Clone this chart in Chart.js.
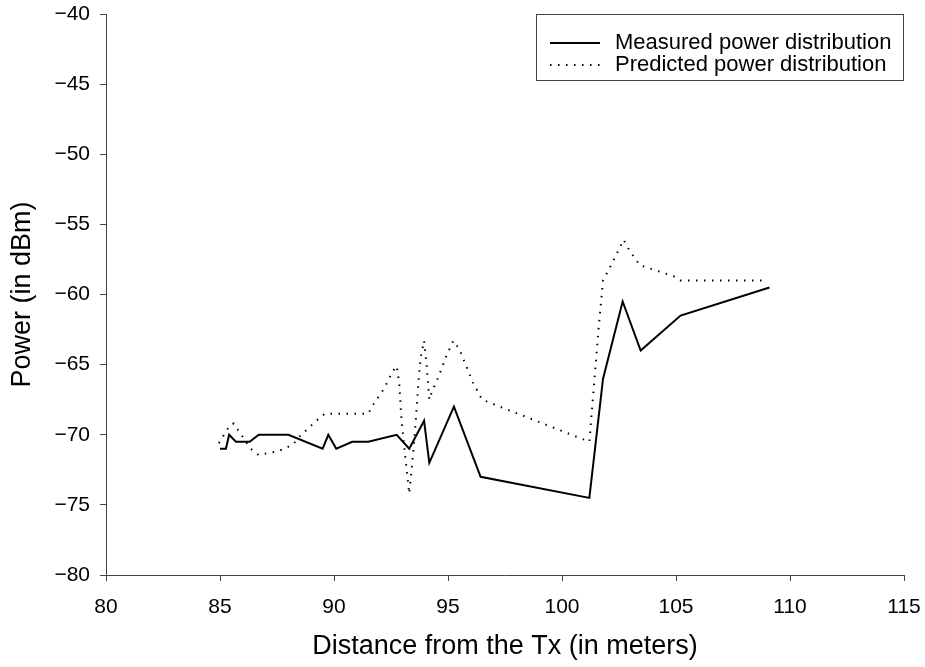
<!DOCTYPE html>
<html>
<head>
<meta charset="utf-8">
<script src="https://cdn.jsdelivr.net/npm/chart.js@4.4.1/dist/chart.umd.min.js"></script>
<style>
  html, body { margin: 0; padding: 0; background: #fff; }
  #wrap { width: 925px; height: 667px; }
</style>
</head>
<body>
<div id="wrap"><canvas id="power-chart"></canvas></div>
<script>
// Measured power (solid line)
const measuredX = [85.0, 85.26, 85.4, 85.7, 86.3, 86.7, 88.0, 89.5, 89.75, 90.1, 90.8, 91.5, 92.75, 93.3, 93.95, 94.18, 95.26, 96.43, 101.2, 101.8, 102.66, 103.45, 105.2, 109.1];
const measuredY = [-71, -71, -70, -70.5, -70.5, -70, -70, -71, -70, -71, -70.5, -70.5, -70, -71, -69, -72, -68, -73, -74.5, -66, -60.5, -64, -61.5, -59.5];

// Predicted power (dotted line)
const predictedX = [84.95, 85.1, 85.45, 85.6, 85.85, 86.1, 86.35, 86.7, 87.1, 87.5, 87.8, 88.2, 88.5, 88.9, 89.3, 89.6, 91.5, 91.7, 92.2, 92.57, 92.75, 92.86, 92.95, 93.1, 93.3, 93.48, 93.6, 93.7, 93.8, 93.95, 94.06, 94.18, 94.3, 94.47, 94.62, 94.9, 95.23, 95.5, 95.8, 96.1, 96.5, 101.2, 101.6, 101.8, 102.0, 102.37, 102.7, 102.9, 103.4, 104.9, 105.2, 109.0];
const predictedY = [-70.6, -70.2, -69.3, -69.2, -69.8, -70.4, -71.0, -71.45, -71.3, -71.2, -71.0, -70.7, -70.1, -69.5, -68.9, -68.5, -68.5, -67.9, -66.7, -65.5, -65.1, -66.3, -68.7, -71.2, -74.2, -71.2, -68.7, -66.3, -64.5, -63.3, -65.0, -67.5, -66.9, -66.3, -65.7, -64.5, -63.3, -63.9, -65.1, -66.3, -67.5, -70.5, -62.5, -59.0, -58.4, -57.2, -56.1, -56.7, -57.9, -58.7, -59.0, -59.0];

const seriesLabels = ['Measured power distribution', 'Predicted power distribution'];
const xTitle = 'Distance from the Tx (in meters)';
const yTitle = 'Power (in dBm)';

const toPoints = (xs, ys) => xs.map((x, i) => ({ x: x, y: ys[i] }));

const FONT = 'Arial, "Liberation Sans", Helvetica, sans-serif';
const AXIS_COLOR = '#444';

// legend with border, drawn inside the plot area
const boxedLegend = {
    id: 'boxedLegend',
    afterDraw(chart) {
        const ctx = chart.ctx;
        const ds = chart.data.datasets;
        const left = 536, top = 14, right = 903, bottom = 80;
        ctx.save();
        ctx.fillStyle = '#fff';
        ctx.fillRect(left, top, right - left, bottom - top);
        ctx.strokeStyle = AXIS_COLOR;
        ctx.lineWidth = 1;
        ctx.strokeRect(left + 0.5, top + 0.5, right - left, bottom - top);
        ds.forEach((d, i) => {
            const y = 43 + i * 22;
            ctx.beginPath();
            ctx.setLineDash(d.borderDash || []);
            ctx.lineWidth = d.borderWidth;
            ctx.strokeStyle = d.borderColor;
            ctx.moveTo(550, y);
            ctx.lineTo(600, y);
            ctx.stroke();
            ctx.setLineDash([]);
            ctx.fillStyle = '#000';
            ctx.font = '22px ' + FONT;
            ctx.textBaseline = 'middle';
            ctx.textAlign = 'left';
            ctx.fillText(d.label, 615, y);
        });
        ctx.restore();
    }
};

// negative tick labels use a real minus sign
const minusLabel = (v) => String(v).replace('-', '\u2212');

new Chart(document.getElementById('power-chart'), {
    type: 'scatter',
    data: {
        datasets: [
            {
                label: seriesLabels[0],
                data: toPoints(measuredX, measuredY),
                showLine: true,
                borderColor: '#000',
                borderWidth: 2,
                pointRadius: 0,
                tension: 0
            },
            {
                label: seriesLabels[1],
                data: toPoints(predictedX, predictedY),
                showLine: true,
                borderColor: '#000',
                borderWidth: 2,
                borderDash: [1.5, 6.5],
                pointRadius: 0,
                tension: 0
            }
        ]
    },
    options: {
        responsive: true,
        maintainAspectRatio: false,
        animation: false,
        layout: {
            padding: { top: 14, right: 21, left: 0, bottom: 0 }
        },
        plugins: {
            legend: { display: false },
            tooltip: { enabled: false }
        },
        scales: {
            x: {
                type: 'linear',
                min: 80,
                max: 115,
                ticks: {
                    stepSize: 5,
                    color: '#000',
                    font: { family: FONT, size: 21 },
                    padding: 14,
                    maxRotation: 0
                },
                grid: {
                    drawOnChartArea: false,
                    drawTicks: true,
                    tickLength: 6,
                    color: AXIS_COLOR
                },
                border: { color: AXIS_COLOR, width: 1 },
                title: {
                    display: true,
                    text: xTitle,
                    color: '#000',
                    font: { family: FONT, size: 27 },
                    padding: { top: 0, bottom: 4 }
                },
                afterFit: (scale) => {
                    scale.height = 92;
                    scale.paddingLeft = 0;
                    scale.paddingRight = 0;
                }
            },
            y: {
                type: 'linear',
                min: -80,
                max: -40,
                ticks: {
                    stepSize: 5,
                    color: '#000',
                    font: { family: FONT, size: 21 },
                    padding: 10,
                    callback: minusLabel
                },
                grid: {
                    drawOnChartArea: false,
                    drawTicks: true,
                    tickLength: 6,
                    color: AXIS_COLOR
                },
                border: { color: AXIS_COLOR, width: 1 },
                title: {
                    display: true,
                    text: yTitle,
                    color: '#000',
                    font: { family: FONT, size: 27 },
                    padding: { top: 6, bottom: 0 }
                },
                afterFit: (scale) => {
                    scale.width = 106;
                    scale.paddingTop = 0;
                    scale.paddingBottom = 0;
                }
            }
        }
    },
    plugins: [boxedLegend]
});
</script>
</body>
</html>
